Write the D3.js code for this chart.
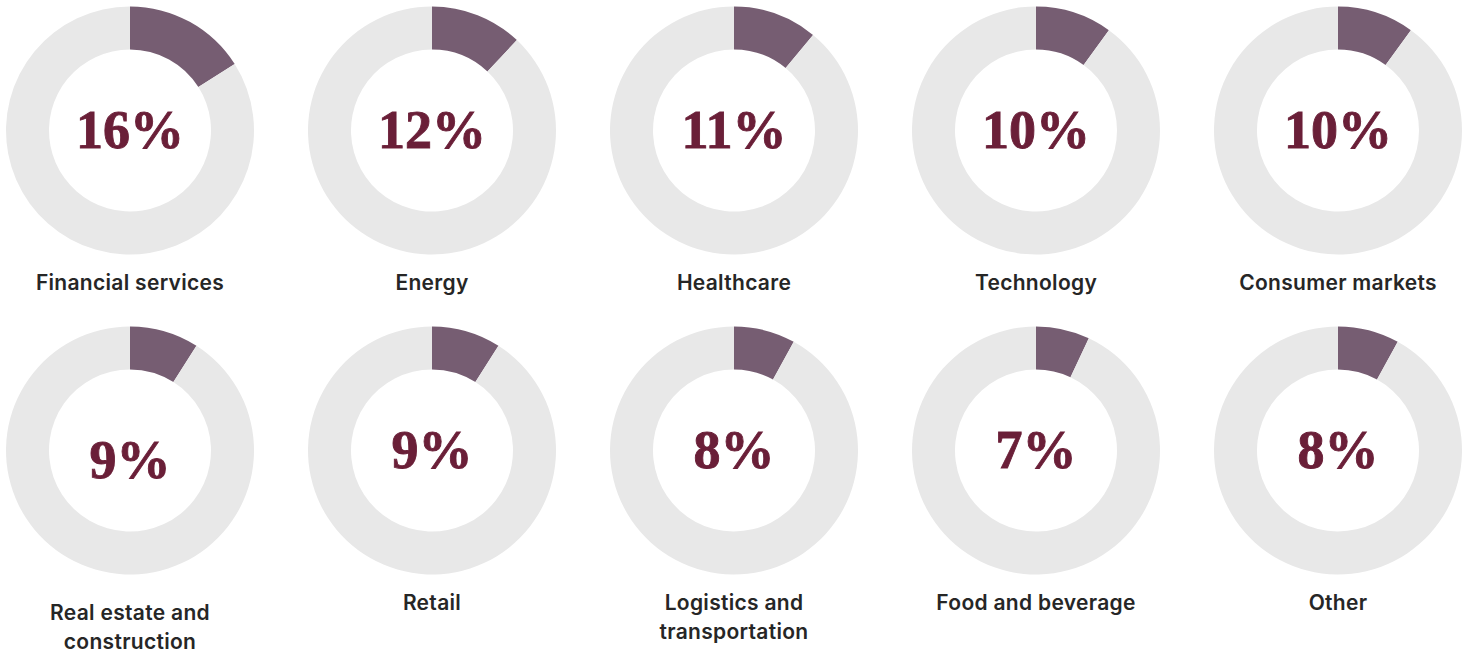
<!DOCTYPE html>
<html>
<head>
<meta charset="utf-8">
<script src="https://cdn.jsdelivr.net/npm/d3@7"></script>
<style>
	body { margin: 0; background: #fff; }
	.pct { font-family: "Liberation Serif", "DejaVu Serif", serif; font-weight: bold; fill: #6a1f38; stroke: #6a1f38; stroke-width: 0.9px; }
	.label { font-family: Inter, Roboto, sans-serif; font-weight: 600; fill: #262626; }
</style>
</head>
<body>
<div id="chart"></div>
<script>
// Sectors and their share
var sectors = ["Financial services", "Energy", "Healthcare", "Technology", "Consumer markets",
	"Real estate and construction", "Retail", "Logistics and transportation", "Food and beverage", "Other"];
var shares = [16, 12, 11, 10, 10, 9, 9, 8, 7, 8];
// how the labels wrap
var labelLines = [
	["Financial services"], ["Energy"], ["Healthcare"], ["Technology"], ["Consumer markets"],
	["Real estate and", "construction"], ["Retail"], ["Logistics and", "transportation"], ["Food and beverage"], ["Other"]
];

var width = 1473, height = 653;
var cols = 5;
var outerR = 124, innerR = 81;

var x = d3.scaleLinear().domain([0, cols - 1]).range([130, 1338]);
var y = d3.scaleLinear().domain([0, 1]).range([130.5, 450.5]);

var svg = d3.select("#chart").append("svg")
	.attr("width", width)
	.attr("height", height);

var arc = d3.arc().innerRadius(innerR).outerRadius(outerR);
var pie = d3.pie().sort(null).value(function(d) { return d; });

var cells = svg.selectAll("g.donut")
	.data(shares)
	.enter()
	.append("g")
	.attr("class", "donut")
	.attr("transform", function(d, i) {
		return "translate(" + x(i % cols) + "," + y(Math.floor(i / cols)) + ")";
	});

cells.selectAll("path")
	.data(function(d) { return pie([d, 100 - d]); })
	.enter()
	.append("path")
	.attr("d", arc)
	.attr("fill", function(d, i) { return i === 0 ? "#765d72" : "#e8e8e8"; });

// the real estate cell sits a bit lower in the original
function shift(i) { return i === 5 ? 10 : 0; }

cells.append("text")
	.attr("class", "pct")
	.attr("text-anchor", "middle")
	.attr("y", function(d, i) { return 17 + shift(i); })
	.style("font-size", "54px")
	.text(function(d) { return d + "%"; });

cells.append("text")
	.attr("class", "label")
	.attr("text-anchor", "middle")
	.style("font-size", "21px")
	.style("letter-spacing", "0.3px")
	.each(function(d, i) {
		var t = d3.select(this);
		labelLines[i].forEach(function(line, j) {
			t.append("tspan")
				.attr("x", 0)
				.attr("y", 159 + shift(i) + j * 29.5)
				.text(line);
		});
	});
</script>
</body>
</html>
